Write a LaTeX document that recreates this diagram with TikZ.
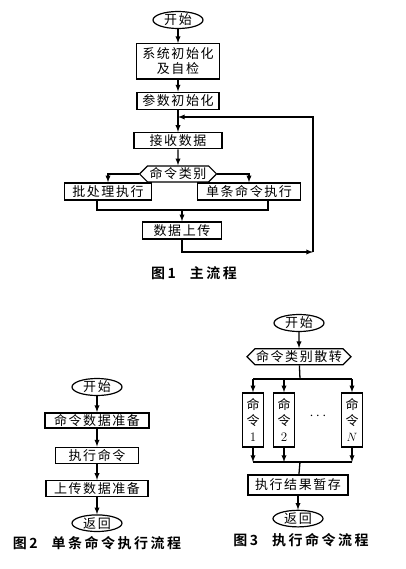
\documentclass[tikz,border=0pt]{standalone}
\usepackage{fontspec}
\usepackage{tikz}
\usetikzlibrary{shapes,positioning,calc}
\newfontfamily\cjk{Noto Sans CJK SC}[LetterSpace=12]
\newfontfamily\cjkbf{Noto Sans CJK SC Bold}[LetterSpace=18]

\tikzset{
	stepbox/.style={draw, line width=1.4pt, minimum height=16pt, inner sep=1pt,
		font=\cjk\fontsize{13}{15}\selectfont},
	cmdbox/.style={draw, line width=1.4pt, minimum width=21pt, minimum height=54pt,
		inner sep=0pt, align=center, font=\cjk\fontsize{13}{16}\selectfont},
	endcap/.style={draw, ellipse, line width=1.2pt, minimum width=50pt, minimum height=15pt,
		inner sep=0pt, font=\cjk\fontsize{13}{15}\selectfont},
	hexa/.style={draw, signal, signal to=west and east, line width=1.2pt,
		minimum height=16pt, inner sep=1pt, font=\cjk\fontsize{13}{15}\selectfont},
	figcap/.style={font=\cjkbf\fontsize{14}{16}\selectfont},
	flow/.style={-latex, line width=1.3pt},
	link/.style={line width=1.3pt}
}

\begin{document}
\begin{tikzpicture}[x=1pt,y=-1pt]
	\useasboundingbox (0,0) rectangle (405,569);

	% main flow
	\node[endcap] (start) at (178,20) {开始};
	\node[stepbox,
		below=14pt of start,
		minimum width=83pt,
		minimum height=35pt,
		align=center
	] (init) {系统初始化\\及自检};
	\node[stepbox,
		below=12pt of init,
		minimum width=82pt,
		minimum height=17pt
	] (param) {参数初始化};
	\node[stepbox,
		below=22pt of param,
		minimum width=88pt
	] (recv) {接收数据};
	\node[hexa,
		below=16pt of recv,
		minimum width=77pt
	] (type) {命令类别};
	\node[stepbox, minimum width=87pt, minimum height=17pt] (batch) at (108,191.5) {批处理执行};
	\node[stepbox, minimum width=103pt, minimum height=17pt] (single) at (249,191.5) {单条命令执行};
	\node[stepbox, minimum width=79pt, minimum height=17pt] (upload) at (182,230.5) {数据上传};
	\node[figcap] (cap1) at (194,273) {图1\quad 主流程};

	\coordinate (merge) at (182,210);
	\coordinate (corner) at (313,252);
	\coordinate (back) at (178,117);

	\draw[flow] (start) edge (init)
	(init) edge (param)
	(param) edge (recv)
	(recv) edge (type);
	\draw[flow] (type.west) -| (batch.north);
	\draw[flow] (type.east) -| (single.north);
	\draw[link] ($(batch.south)+(-11,0)$) |- (merge) -| ($(single.south)+(19,0)$);
	\draw[flow] (merge) -- (upload);
	\draw[flow] (upload) |- (corner);
	\draw[flow] (corner) |- (back);

	% single command
	\node[endcap] (start2) at (97,387) {开始};
	\node[stepbox,
		below=16pt of start2,
		minimum width=104pt,
		minimum height=15pt
	] (prep) {命令数据准备};
	\node[stepbox,
		below=18pt of prep,
		minimum width=83pt
	] (exec) {执行命令};
	\node[stepbox,
		below=16pt of exec,
		minimum width=102pt
	] (uprep) {上传数据准备};
	\node[endcap, below=17pt of uprep] (ret2) {返回};
	\node[figcap] (cap2) at (97,543) {图2\quad 单条命令执行流程};

	\draw[flow] (start2) edge (prep)
	(prep) edge (exec)
	(exec) edge (uprep)
	(uprep) edge (ret2);

	% command dispatch
	\node[endcap, minimum height=17pt] (start3) at (299,323) {开始};
	\node[hexa,
		below=16pt of start3,
		minimum width=104pt
	] (disp) {命令类别散转};
	\node[cmdbox] (cmd1) at (253,420) {命\\令\\{\normalfont 1}};
	\node[cmdbox] (cmd2) at (284,420) {命\\令\\{\normalfont 2}};
	\node[cmdbox] (cmdN) at (352,420) {命\\令\\$N$};
	\node[font=\Large] (dots) at (318,416) {$\cdots$};
	\node[stepbox, minimum width=100pt, minimum height=20pt] (store) at (298,485) {执行结果暂存};
	\node[endcap, below=14pt of store, minimum height=16pt] (ret3) {返回};
	\node[figcap] (cap3) at (301,540) {图3\quad 执行命令流程};

	\coordinate (split) at (300,379);
	\coordinate (join) at (300,462);

	\draw[flow] (start3) -- (disp);
	\draw[link] (disp) -- (split);
	\draw[link] (cmd1.north |- split) -- (cmdN.north |- split);
	\draw[link] (cmd1.south |- join) -- (cmdN.south |- join);
	\foreach \c in {cmd1,cmd2,cmdN} {
		\draw[flow] (\c.north |- split) -- (\c.north);
		\draw[flow] (\c.south) -- (\c.south |- join);
	}
	\draw[link] (join) -- (store);
	\draw[flow] (store) -- (ret3);

\end{tikzpicture}
\end{document}
